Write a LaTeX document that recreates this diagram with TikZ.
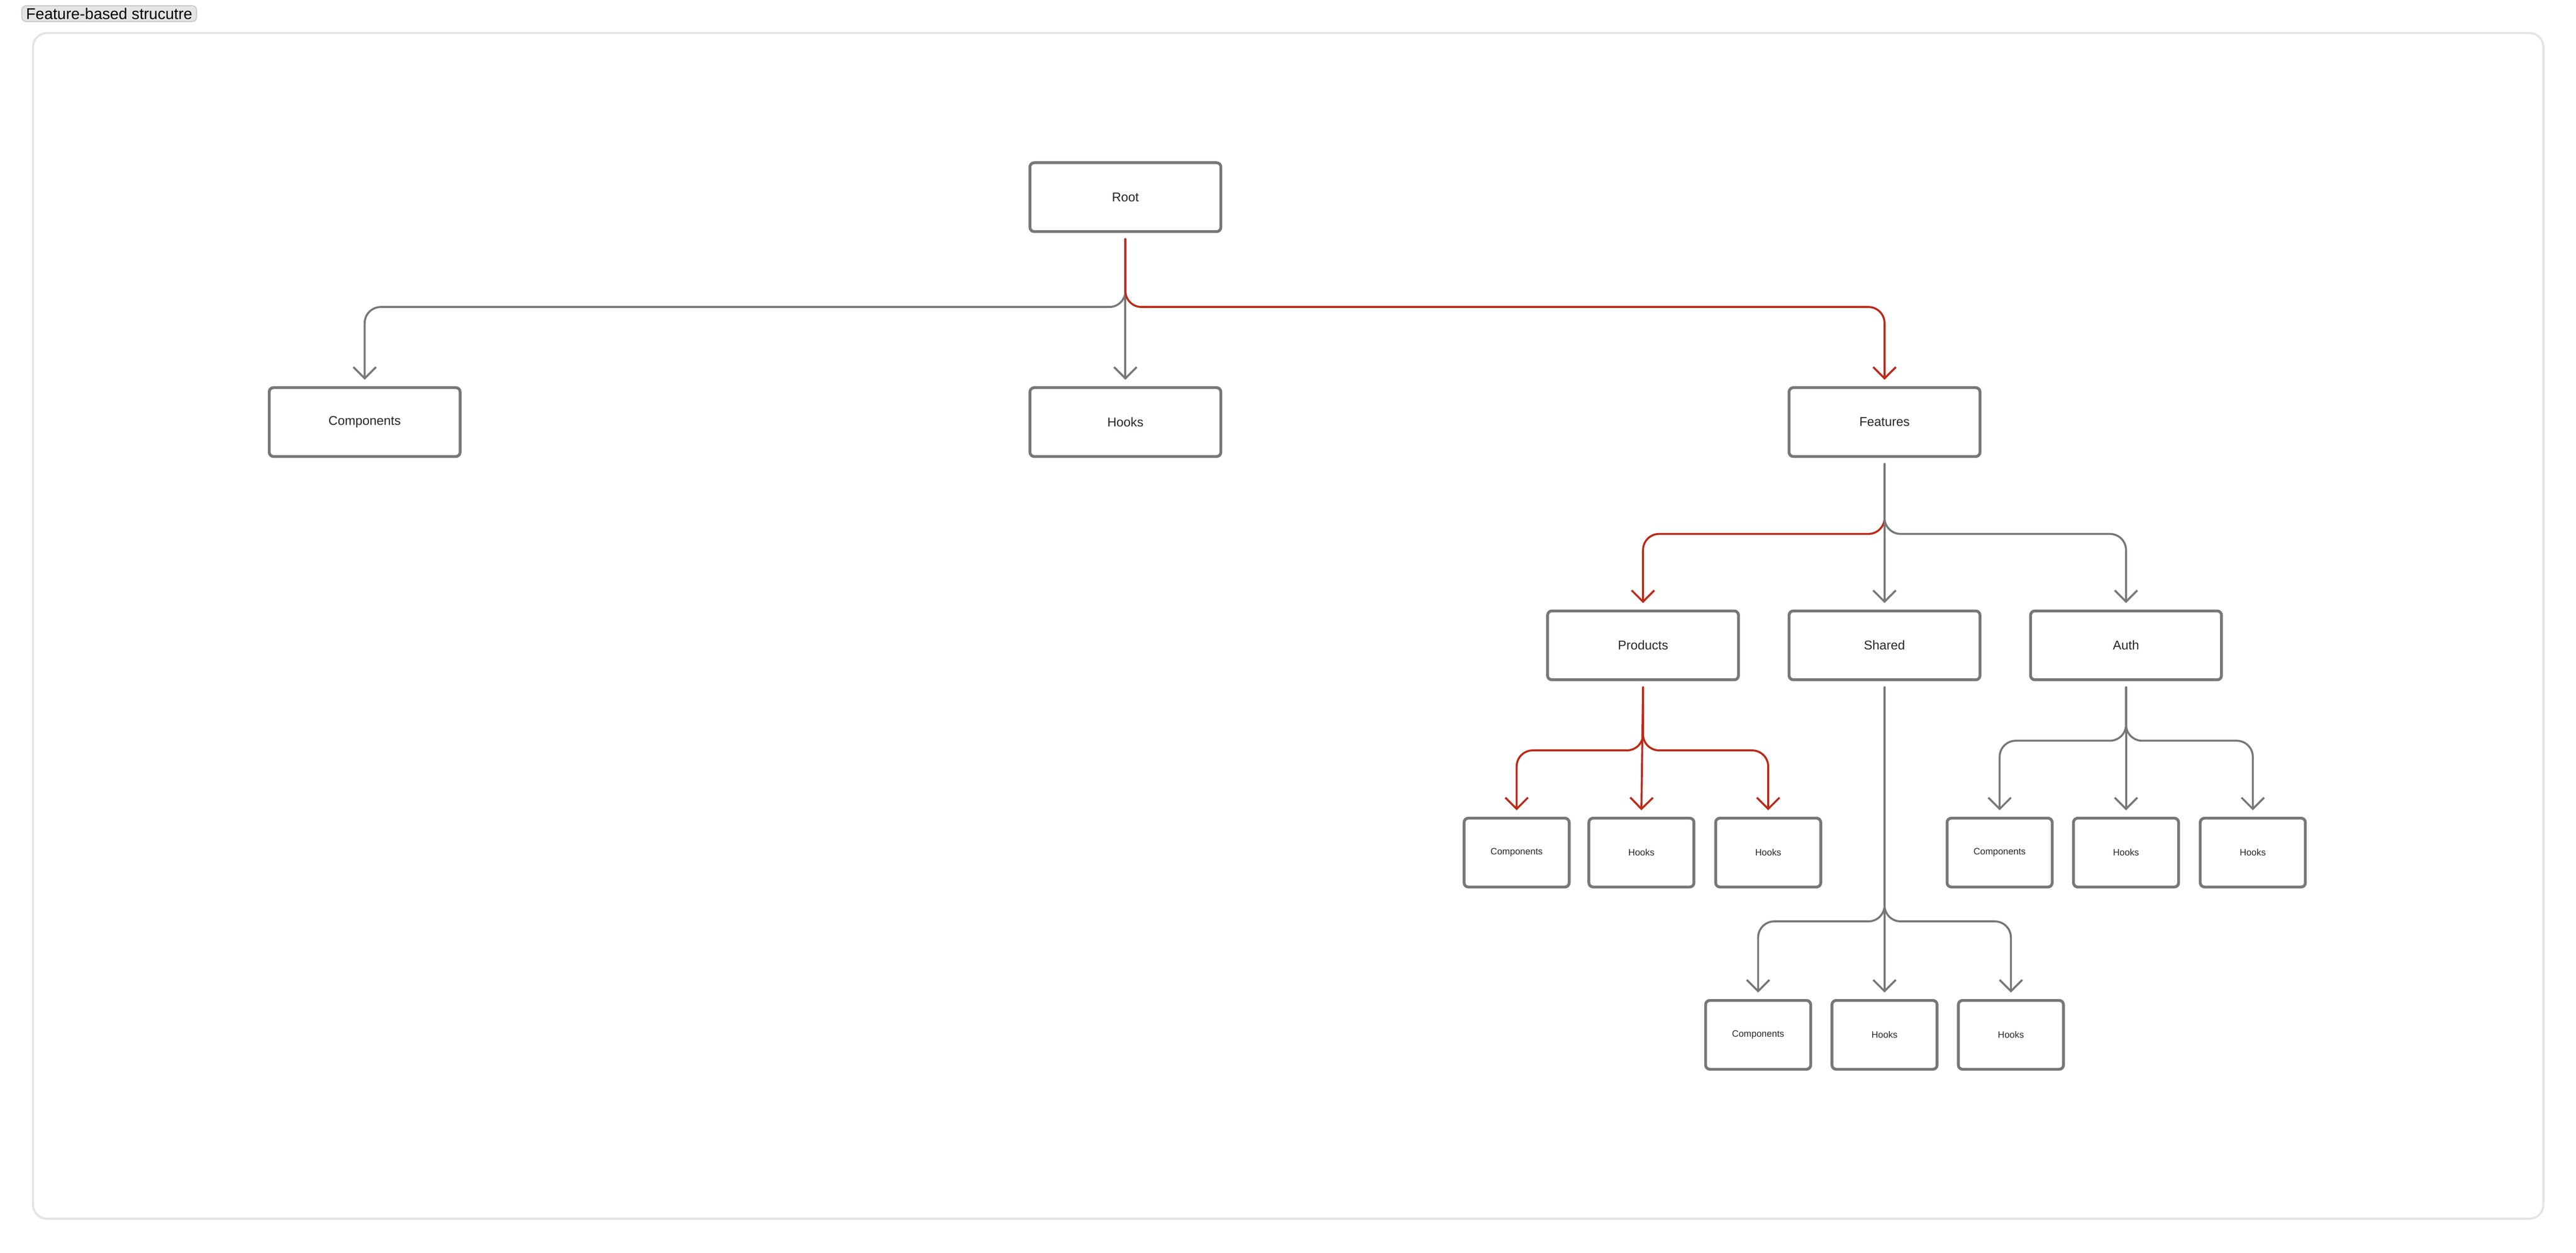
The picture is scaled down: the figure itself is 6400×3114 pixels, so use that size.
\documentclass[tikz,border=0pt]{standalone}
\usepackage{fontspec}
\setmainfont{Liberation Sans}
\usepackage{tikz}
\usetikzlibrary{positioning,arrows.meta}

\definecolor{boxgray}{HTML}{777777}
\definecolor{pathred}{HTML}{BC2A18}
\definecolor{framegray}{HTML}{E4E4E4}

\begin{document}
\begin{tikzpicture}[x=0.01cm, y=-0.01cm,
        bigbox/.style={draw=boxgray, line width=2pt, rounded corners=3pt, minimum width=4.74cm, minimum height=1.71cm, font=\fontsize{9}{11}\selectfont, text=black!85},
        smallbox/.style={bigbox, minimum width=2.61cm, font=\fontsize{6.5}{8}\selectfont},
        link/.style={draw=boxgray, line width=1.4pt, rounded corners=0.4cm, line cap=round, -{Straight Barb[length=8pt, width=16pt, line width=1.4pt]}},
        hot/.style={link, draw=pathred}]
        \useasboundingbox (0,0) rectangle (6400,3114);

        % frame and title
        \draw[framegray, line width=1.5pt, rounded corners=0.35cm] (82,82) rectangle (6319,3029);
        \node (title) [draw=black!20, fill=black!10, line width=0.8pt, rounded corners=3pt, anchor=north west, inner xsep=3pt, inner ysep=1.5pt, font=\fontsize{11}{13}\selectfont] at (53,13) {Feature-based strucutre};

        % top levels
        \node (root)     [bigbox] at (2796,490)  {Root};
        \node (comp)     [bigbox] at (906,1049)  {Components};
        \node (hooks)    [bigbox] at (2796,1049) {Hooks};
        \node (features) [bigbox] at (4682,1049) {Features};

        \node (products) [bigbox] at (4082,1604) {Products};
        \node (shared)   [bigbox] at (4682,1604) {Shared};
        \node (auth)     [bigbox] at (5282,1604) {Auth};

        % leaves
        \node (pcomp)  [smallbox] at (3768,2119) {Components};
        \node (phooks) [smallbox] at (4078,2119) {Hooks};
        \node (phook2) [smallbox] at (4393,2119) {Hooks};
        \node (acomp)  [smallbox] at (4968,2119) {Components};
        \node (ahooks) [smallbox] at (5282,2119) {Hooks};
        \node (ahook2) [smallbox] at (5597,2119) {Hooks};
        \node (scomp)  [smallbox] at (4368,2572) {Components};
        \node (shooks) [smallbox] at (4682,2572) {Hooks};
        \node (shook2) [smallbox] at (4996,2572) {Hooks};

        % forks
        \coordinate (rootfork) at (2796,763);
        \coordinate (featfork) at (4682,1327);
        \coordinate (prodfork) at (4082,1865);
        \coordinate (authfork) at (5282,1841);
        \coordinate (sharfork) at (4682,2290);

        \draw[link] ([yshift=-0.15cm]root.south) -- (rootfork) -| ([yshift=0.16cm]comp.north);
        \draw[link] ([yshift=-0.15cm]root.south) -- ([yshift=0.16cm]hooks.north);
        \draw[hot]  ([yshift=-0.15cm]root.south) -- (rootfork) -| ([yshift=0.16cm]features.north);

        \draw[hot]  ([yshift=-0.15cm]features.south) -- (featfork) -| ([yshift=0.16cm]products.north);
        \draw[link] ([yshift=-0.15cm]features.south) -- ([yshift=0.16cm]shared.north);
        \draw[link] ([yshift=-0.15cm]features.south) -- (featfork) -| ([yshift=0.16cm]auth.north);

        \draw[hot]  ([yshift=-0.15cm]products.south) -- (prodfork) -| ([yshift=0.16cm]pcomp.north);
        \draw[hot]  ([yshift=-0.15cm]products.south) -- ([yshift=0.16cm]phooks.north);
        \draw[hot]  ([yshift=-0.15cm]products.south) -- (prodfork) -| ([yshift=0.16cm]phook2.north);

        \draw[link] ([yshift=-0.15cm]auth.south) -- (authfork) -| ([yshift=0.16cm]acomp.north);
        \draw[link] ([yshift=-0.15cm]auth.south) -- ([yshift=0.16cm]ahooks.north);
        \draw[link] ([yshift=-0.15cm]auth.south) -- (authfork) -| ([yshift=0.16cm]ahook2.north);

        \draw[link] ([yshift=-0.15cm]shared.south) -- (sharfork) -| ([yshift=0.16cm]scomp.north);
        \draw[link] ([yshift=-0.15cm]shared.south) -- ([yshift=0.16cm]shooks.north);
        \draw[link] ([yshift=-0.15cm]shared.south) -- (sharfork) -| ([yshift=0.16cm]shook2.north);
    \end{tikzpicture}
\end{document}
